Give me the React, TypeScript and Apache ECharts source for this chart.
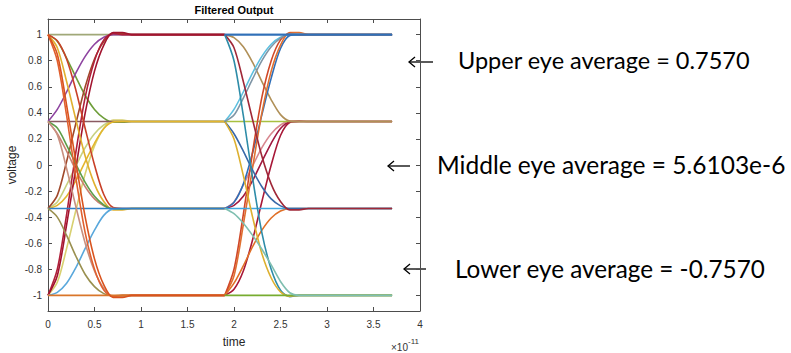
import React, { useEffect, useRef } from "react";
import * as echarts from "echarts";

// ---------- data ----------
const HI = 1;
const UP = 0.3333;
const LO = -0.3333;
const BOT = -1;

const X_TICKS = [0, 0.5, 1, 1.5, 2, 2.5, 3, 3.5, 4];
const Y_TICKS = [-1, -0.8, -0.6, -0.4, -0.2, 0, 0.2, 0.4, 0.6, 0.8, 1];

// fraction of the swing completed at 0, 0.1, ... 0.9 (x1e-11 s) after an edge starts
const PROFILE_A = [0, 0.14, 0.34, 0.56, 0.75, 0.89, 0.97, 1.0, 1.0, 1.0];
const PROFILE_E = [0, 0.1, 0.31, 0.55, 0.76, 0.9, 0.98, 1.005, 1.0, 1.0];
const PROFILE_B = [0, 0.075, 0.27, 0.49, 0.7, 0.86, 0.96, 1.008, 1.008, 1.0];
const PROFILE_C = [0, 0.035, 0.14, 0.32, 0.54, 0.75, 0.92, 0.995, 1.0, 1.0];
const PROFILE_D = [0, 0.06, 0.17, 0.31, 0.47, 0.65, 0.84, 0.97, 1.0, 1.0];
const PROFILES: Record<string, number[]> = {
  A: PROFILE_A,
  E: PROFILE_E,
  B: PROFILE_B,
  C: PROFILE_C,
  D: PROFILE_D,
};

const EDGE1_T0 = 0;
const EDGE1_T1 = 1.9;
const EDGE2_T0 = 1.9;
const EDGE2_T1 = 3.7;

// first edge (t = 0)
const EDGE1_FROM = [HI, LO, BOT, UP, LO, HI, UP, LO, BOT, BOT, HI, HI, UP, UP, BOT, LO, UP, LO, HI, BOT, HI];
const EDGE1_TO = [UP, UP, UP, UP, UP, HI, HI, HI, HI, HI, LO, LO, LO, LO, LO, LO, BOT, BOT, BOT, BOT, BOT];
const EDGE1_SHAPE = ["B", "B", "B", "B", "C", "B", "A", "B", "E", "B", "B", "C", "A", "B", "C", "B", "B", "E", "E", "B", "B"];

// second edge (t = 1.9)
const EDGE2_FROM = [LO, LO, BOT, UP, HI, UP, LO, BOT, BOT, UP, HI, BOT, LO, UP, HI, HI, UP, BOT, LO, HI];
const EDGE2_TO = [UP, UP, UP, UP, UP, HI, HI, HI, HI, HI, HI, LO, LO, LO, LO, BOT, BOT, BOT, BOT, HI];
const EDGE2_SHAPE = ["B", "C", "C", "B", "C", "A", "C", "B", "E", "B", "B", "A", "B", "A", "B", "E", "E", "B", "D", "B"];

// ---------- styles ----------
const EDGE1_COLORS = [
  "#6E9E3A", "#C8D080", "#D8D070", "#8A5A62", "#E3B62E",
  "#A0A878", "#8E44A0", "#A0482A", "#B0203A", "#A2142F",
  "#E0B030", "#C84028", "#C88070", "#5E9E4A", "#5AA8DC", "#2F80C8",
  "#C89080", "#9A9050", "#E06030", "#D9762A", "#D9531E",
];
const EDGE2_COLORS = [
  "#D88890", "#A01840", "#A81838", "#A8C040", "#B09058",
  "#5EC0E0", "#2F6FB8", "#E07030", "#D04828", "#8096A6", "#3070B8",
  "#E07028", "#40A8E0", "#3868A8", "#A02838",
  "#2E8CA8", "#DDB030", "#77AC30", "#7FBFB0", "#3070B8",
];
const AXIS_COLOR = "#4d4d4d";
const TICK_FONT = "Liberation Sans, Arial, sans-serif";
const NOTE_FONT = "Lato, 'Noto Sans', sans-serif";

function buildSeries(
  from: number[],
  to: number[],
  shape: string[],
  colors: string[],
  t0: number,
  t1: number
) {
  const start = Math.round(t0 * 10);
  const n = Math.round(t1 * 10) - start;
  return from.map((a, k) => {
    const b = to[k];
    const p = PROFILES[shape[k]];
    const data: number[][] = [];
    for (let i = 0; i <= n; i++) {
      const f = i < p.length ? p[i] : 1;
      data.push([(start + i) / 10, a + (b - a) * f]);
    }
    return {
      type: "line",
      data,
      showSymbol: false,
      symbol: "none",
      smooth: 0.3,
      silent: true,
      xAxisIndex: 0,
      yAxisIndex: 0,
      lineStyle: { color: colors[k], width: 1.6 },
      itemStyle: { color: colors[k] },
    };
  });
}

function arrow(x1: number, x2: number, y: number) {
  return [
    {
      type: "line",
      shape: { x1, y1: y, x2, y2: y },
      style: { stroke: "#000", lineWidth: 1.3 },
    },
    {
      type: "polyline",
      shape: { points: [[x1 + 6, y - 5], [x1, y], [x1 + 6, y + 5]] },
      style: { stroke: "#000", lineWidth: 1.3, fill: null },
    },
  ];
}

function note(text: string, x: number, y: number, size: number) {
  return {
    type: "text",
    x,
    y,
    style: {
      text,
      fontFamily: NOTE_FONT,
      fontSize: size,
      fill: "#000",
      align: "left",
      verticalAlign: "middle",
    },
  };
}

export default function App() {
  const ref = useRef<HTMLDivElement>(null);
  useEffect(() => {
    if (!ref.current) return;
    const chart = echarts.init(ref.current, undefined, { renderer: "svg" });
    const fmt = (v: number) => String(Math.round(v * 10) / 10);
    const series = [
      ...buildSeries(EDGE1_FROM, EDGE1_TO, EDGE1_SHAPE, EDGE1_COLORS, EDGE1_T0, EDGE1_T1),
      ...buildSeries(EDGE2_FROM, EDGE2_TO, EDGE2_SHAPE, EDGE2_COLORS, EDGE2_T0, EDGE2_T1),
    ];
    const frameLine = { show: true, onZero: false, lineStyle: { color: AXIS_COLOR, width: 1 } };
    chart.setOption({
      animation: false,
      backgroundColor: "#ffffff",
      grid: { left: 48, top: 19, width: 372, height: 294, containLabel: false },
      xAxis: [
        {
          type: "value",
          min: 0,
          max: 4,
          interval: 0.5,
          position: "bottom",
          name: "time",
          nameLocation: "middle",
          nameGap: 25,
          nameTextStyle: { fontFamily: TICK_FONT, fontSize: 12, color: "#262626" },
          axisLine: frameLine,
          axisTick: { show: true, inside: true, length: 4, lineStyle: { color: AXIS_COLOR } },
          axisLabel: {
            show: true,
            margin: 8,
            fontFamily: TICK_FONT,
            fontSize: 10,
            color: "#333",
            formatter: (v: number) => fmt(v),
            customValues: X_TICKS,
          },
          splitLine: { show: false },
        },
        {
          type: "value",
          min: 0,
          max: 4,
          interval: 0.5,
          position: "top",
          axisLine: frameLine,
          axisTick: { show: true, inside: true, length: 4, lineStyle: { color: AXIS_COLOR } },
          axisLabel: { show: false },
          splitLine: { show: false },
        },
      ],
      yAxis: [
        {
          type: "value",
          min: -1.12,
          max: 1.12,
          position: "left",
          name: "voltage",
          nameLocation: "middle",
          nameGap: 30,
          nameTextStyle: { fontFamily: TICK_FONT, fontSize: 12, color: "#262626" },
          axisLine: frameLine,
          axisTick: {
            show: true,
            inside: true,
            length: 4,
            lineStyle: { color: AXIS_COLOR },
            customValues: Y_TICKS,
          },
          axisLabel: {
            show: true,
            margin: 6,
            fontFamily: TICK_FONT,
            fontSize: 10,
            color: "#333",
            formatter: (v: number) => fmt(v),
            customValues: Y_TICKS,
          },
          splitLine: { show: false },
        },
        {
          type: "value",
          min: -1.12,
          max: 1.12,
          position: "right",
          axisLine: frameLine,
          axisTick: {
            show: true,
            inside: true,
            length: 4,
            lineStyle: { color: AXIS_COLOR },
            customValues: Y_TICKS,
          },
          axisLabel: { show: false },
          splitLine: { show: false },
        },
      ],
      graphic: [
        {
          type: "text",
          x: 234,
          y: 10,
          style: {
            text: "Filtered Output",
            fontFamily: TICK_FONT,
            fontWeight: "bold",
            fontSize: 11,
            fill: "#000",
            align: "center",
            verticalAlign: "middle",
          },
        },
        {
          type: "text",
          x: 408,
          y: 347,
          style: {
            text: "×10",
            fontFamily: TICK_FONT,
            fontSize: 10,
            fill: "#333",
            align: "right",
            verticalAlign: "middle",
          },
        },
        {
          type: "text",
          x: 408,
          y: 341,
          style: {
            text: "-11",
            fontFamily: TICK_FONT,
            fontSize: 8,
            fill: "#333",
            align: "left",
            verticalAlign: "middle",
          },
        },
        ...arrow(409, 433, 62),
        ...arrow(388, 410, 166),
        ...arrow(404, 426, 269),
        note("Upper eye average = 0.7570", 458, 60, 23.5),
        note("Middle eye average = 5.6103e-6", 437, 164, 24.5),
        note("Lower eye average = -0.7570", 455, 268, 24.3),
      ],
      series,
    });
    return () => chart.dispose();
  }, []);
  return (
    <div
      ref={ref}
      style={{ position: "fixed", left: 0, top: 0, width: 791, height: 353, background: "#fff" }}
    />
  );
}
